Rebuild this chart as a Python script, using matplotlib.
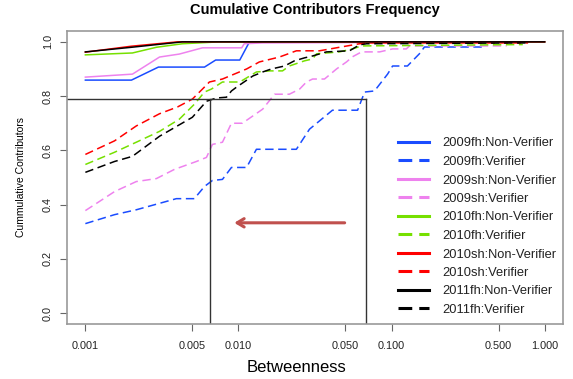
import matplotlib
matplotlib.use('Agg')
import matplotlib.pyplot as plt
import numpy as np

plt.rcParams['font.family'] = ['Liberation Sans', 'DejaVu Sans']

# betweenness (x) and cumulative fraction (y) for each series
fh09_nv_x = [0.001, 0.002, 0.003, 0.006, 0.0071, 0.0102, 0.0118, 1.0]
fh09_nv_y = [0.859, 0.859, 0.907, 0.907, 0.933, 0.933, 1.0, 1.0]
fh09_v_x = [0.001, 0.00155, 0.00215, 0.00393, 0.00515, 0.0060, 0.00676, 0.00786, 0.0090, 0.0113,
            0.0131, 0.0239, 0.0291, 0.0411, 0.0600, 0.0667, 0.0774, 0.0942, 0.1016, 0.127, 0.152, 0.164, 0.405]
fh09_v_y = [0.330, 0.363, 0.381, 0.422, 0.422, 0.467, 0.489, 0.493, 0.537, 0.537,
            0.604, 0.604, 0.678, 0.748, 0.748, 0.815, 0.819, 0.881, 0.911, 0.911, 0.956, 0.981, 0.981]

sh09_nv_x = [0.001, 0.00203, 0.00305, 0.00411, 0.00582, 0.0105, 0.0109, 0.0144, 1.0]
sh09_nv_y = [0.870, 0.881, 0.944, 0.955, 0.978, 0.978, 0.993, 0.996, 1.0]
sh09_v_x = [0.001, 0.00123, 0.00155, 0.00215, 0.00291, 0.00382, 0.00531, 0.00618, 0.00676, 0.00786,
            0.0090, 0.0106, 0.0144, 0.0172, 0.0215, 0.0251, 0.0278, 0.0305, 0.0365, 0.0437,
            0.0508, 0.0556, 0.0637, 0.0836, 0.1016, 0.125, 0.131, 0.565]
sh09_v_y = [0.378, 0.411, 0.448, 0.485, 0.496, 0.530, 0.559, 0.574, 0.622, 0.630,
            0.700, 0.700, 0.752, 0.807, 0.807, 0.826, 0.852, 0.863, 0.863, 0.900,
            0.926, 0.945, 0.963, 0.963, 0.974, 0.974, 0.985, 0.985]

fh10_nv_x = [0.001, 0.00203, 0.00291, 0.0043, 0.0075, 1.0]
fh10_nv_y = [0.952, 0.959, 0.980, 0.993, 1.0, 1.0]
fh10_v_x = [0.001, 0.00155, 0.00215, 0.00305, 0.00411, 0.00515, 0.0060, 0.00666, 0.00786, 0.0102,
            0.0131, 0.0160, 0.0194, 0.0215, 0.0270, 0.0305, 0.0324, 0.0457, 0.0556, 0.0637, 0.72]
fh10_v_y = [0.548, 0.593, 0.630, 0.670, 0.715, 0.770, 0.815, 0.826, 0.852, 0.852,
            0.889, 0.893, 0.893, 0.911, 0.930, 0.937, 0.956, 0.963, 0.974, 0.985, 0.990]

sh10_nv_x = [0.001, 0.002, 0.004, 1.0]
sh10_nv_y = [0.962, 0.984, 1.0, 1.0]
sh10_v_x = [0.001, 0.00155, 0.00215, 0.00305, 0.004, 0.005, 0.00582, 0.00646, 0.00786, 0.0113,
            0.0137, 0.0185, 0.0239, 0.0338, 0.0457, 0.0618, 0.0718, 0.78]
sh10_v_y = [0.585, 0.635, 0.690, 0.735, 0.760, 0.789, 0.826, 0.852, 0.863, 0.900,
            0.926, 0.944, 0.967, 0.967, 0.980, 0.993, 0.996, 0.996]

fh11_nv_x = [0.001, 0.002, 0.0043, 1.0]
fh11_nv_y = [0.963, 0.980, 1.0, 1.0]
fh11_v_x = [0.001, 0.00155, 0.00203, 0.00305, 0.005, 0.00618, 0.00718, 0.00835, 0.0090, 0.00971,
            0.0124, 0.0144, 0.0164, 0.0200, 0.0232, 0.0270, 0.0305, 0.0376, 0.0531, 0.0618, 0.0687, 0.76]
fh11_v_y = [0.519, 0.559, 0.578, 0.652, 0.722, 0.781, 0.793, 0.796, 0.819, 0.833,
            0.874, 0.889, 0.900, 0.911, 0.930, 0.941, 0.948, 0.963, 0.967, 0.989, 0.993, 0.996]

series = [
    ('2009fh:Non-Verifier', fh09_nv_x, fh09_nv_y, '#1a4cff', '-'),
    ('2009fh:Verifier', fh09_v_x, fh09_v_y, '#1a4cff', '--'),
    ('2009sh:Non-Verifier', sh09_nv_x, sh09_nv_y, '#ee82ee', '-'),
    ('2009sh:Verifier', sh09_v_x, sh09_v_y, '#ee82ee', '--'),
    ('2010fh:Non-Verifier', fh10_nv_x, fh10_nv_y, '#76e000', '-'),
    ('2010fh:Verifier', fh10_v_x, fh10_v_y, '#76e000', '--'),
    ('2010sh:Non-Verifier', sh10_nv_x, sh10_nv_y, '#ff0000', '-'),
    ('2010sh:Verifier', sh10_v_x, sh10_v_y, '#ff0000', '--'),
    ('2011fh:Non-Verifier', fh11_nv_x, fh11_nv_y, '#000000', '-'),
    ('2011fh:Verifier', fh11_v_x, fh11_v_y, '#000000', '--'),
]

# reference markers
y_ref = 0.79
x_ref1 = 0.00656
x_ref2 = 0.0676

fig = plt.figure(figsize=(5.73, 3.79), dpi=100)
ax = fig.add_axes([67/573, 1-324/379, 496/573, 293/379])

for lab, x, y, c, ls in series:
    if ls == '--':
        ax.plot(x, y, color=c, lw=1.1, dashes=(5.5, 3))
    else:
        ax.plot(x, y, color=c, lw=1.1)

ax.set_xscale('log')
ax.set_xlim(10**-3.12, 10**0.12)
ax.set_ylim(-0.04, 1.04)

ax.plot([10**-3.12, x_ref2], [y_ref, y_ref], color='#333333', lw=1)
ax.plot([x_ref1, x_ref1], [-0.04, y_ref], color='#333333', lw=1)
ax.plot([x_ref2, x_ref2], [-0.04, y_ref], color='#333333', lw=1)

ax.annotate('', xy=(0.0090, 0.333), xytext=(0.0515, 0.333),
            arrowprops=dict(arrowstyle='->,head_length=0.5,head_width=0.3', color='#c0504d', lw=2.2))

xt = [0.001, 0.005, 0.01, 0.05, 0.1, 0.5, 1.0]
ax.set_xticks(xt)
ax.set_xticklabels(['%.3f' % v for v in xt])
ax.xaxis.set_minor_locator(matplotlib.ticker.NullLocator())
yt = [0.0, 0.2, 0.4, 0.6, 0.8, 1.0]
ax.set_yticks(yt)
ax.set_yticklabels(['%.1f' % v for v in yt], rotation=90, va='center')
ax.tick_params(axis='both', length=5, width=0.8, color='#666666', labelsize=7.8, labelcolor='#222222')
ax.tick_params(axis='x', pad=7)
ax.tick_params(axis='y', pad=5)

for s in ax.spines.values():
    s.set_color('#999999')
    s.set_linewidth(1.2)

handles = []
for lab, x, y, c, ls in series:
    if ls == '--':
        h, = ax.plot([], [], color=c, lw=2.2, dashes=(4.5, 2.3), label=lab)
    else:
        h, = ax.plot([], [], color=c, lw=2.2, label=lab)
    handles.append(h)
ax.legend(handles=handles, loc='upper left', bbox_to_anchor=(392/573, 1-131/379),
          bbox_transform=fig.transFigure, frameon=False, fontsize=9.3, borderpad=0,
          handlelength=2.4, handletextpad=1.0, labelspacing=0.50, labelcolor='#222222')

fig.text(315/573, 1-10/379, 'Cumulative Contributors Frequency', ha='center', va='center',
         fontsize=10.5, fontweight='bold', family=['Liberation Sans Narrow', 'Liberation Sans'])
fig.text(297/573, 1-367/379, 'Betweenness', ha='center', va='center', fontsize=12)
fig.text(21/573, 1-177/379, 'Cummulative Contributors', ha='center', va='center',
         fontsize=7.5, rotation=90)

fig.savefig('out.png', dpi=100)
